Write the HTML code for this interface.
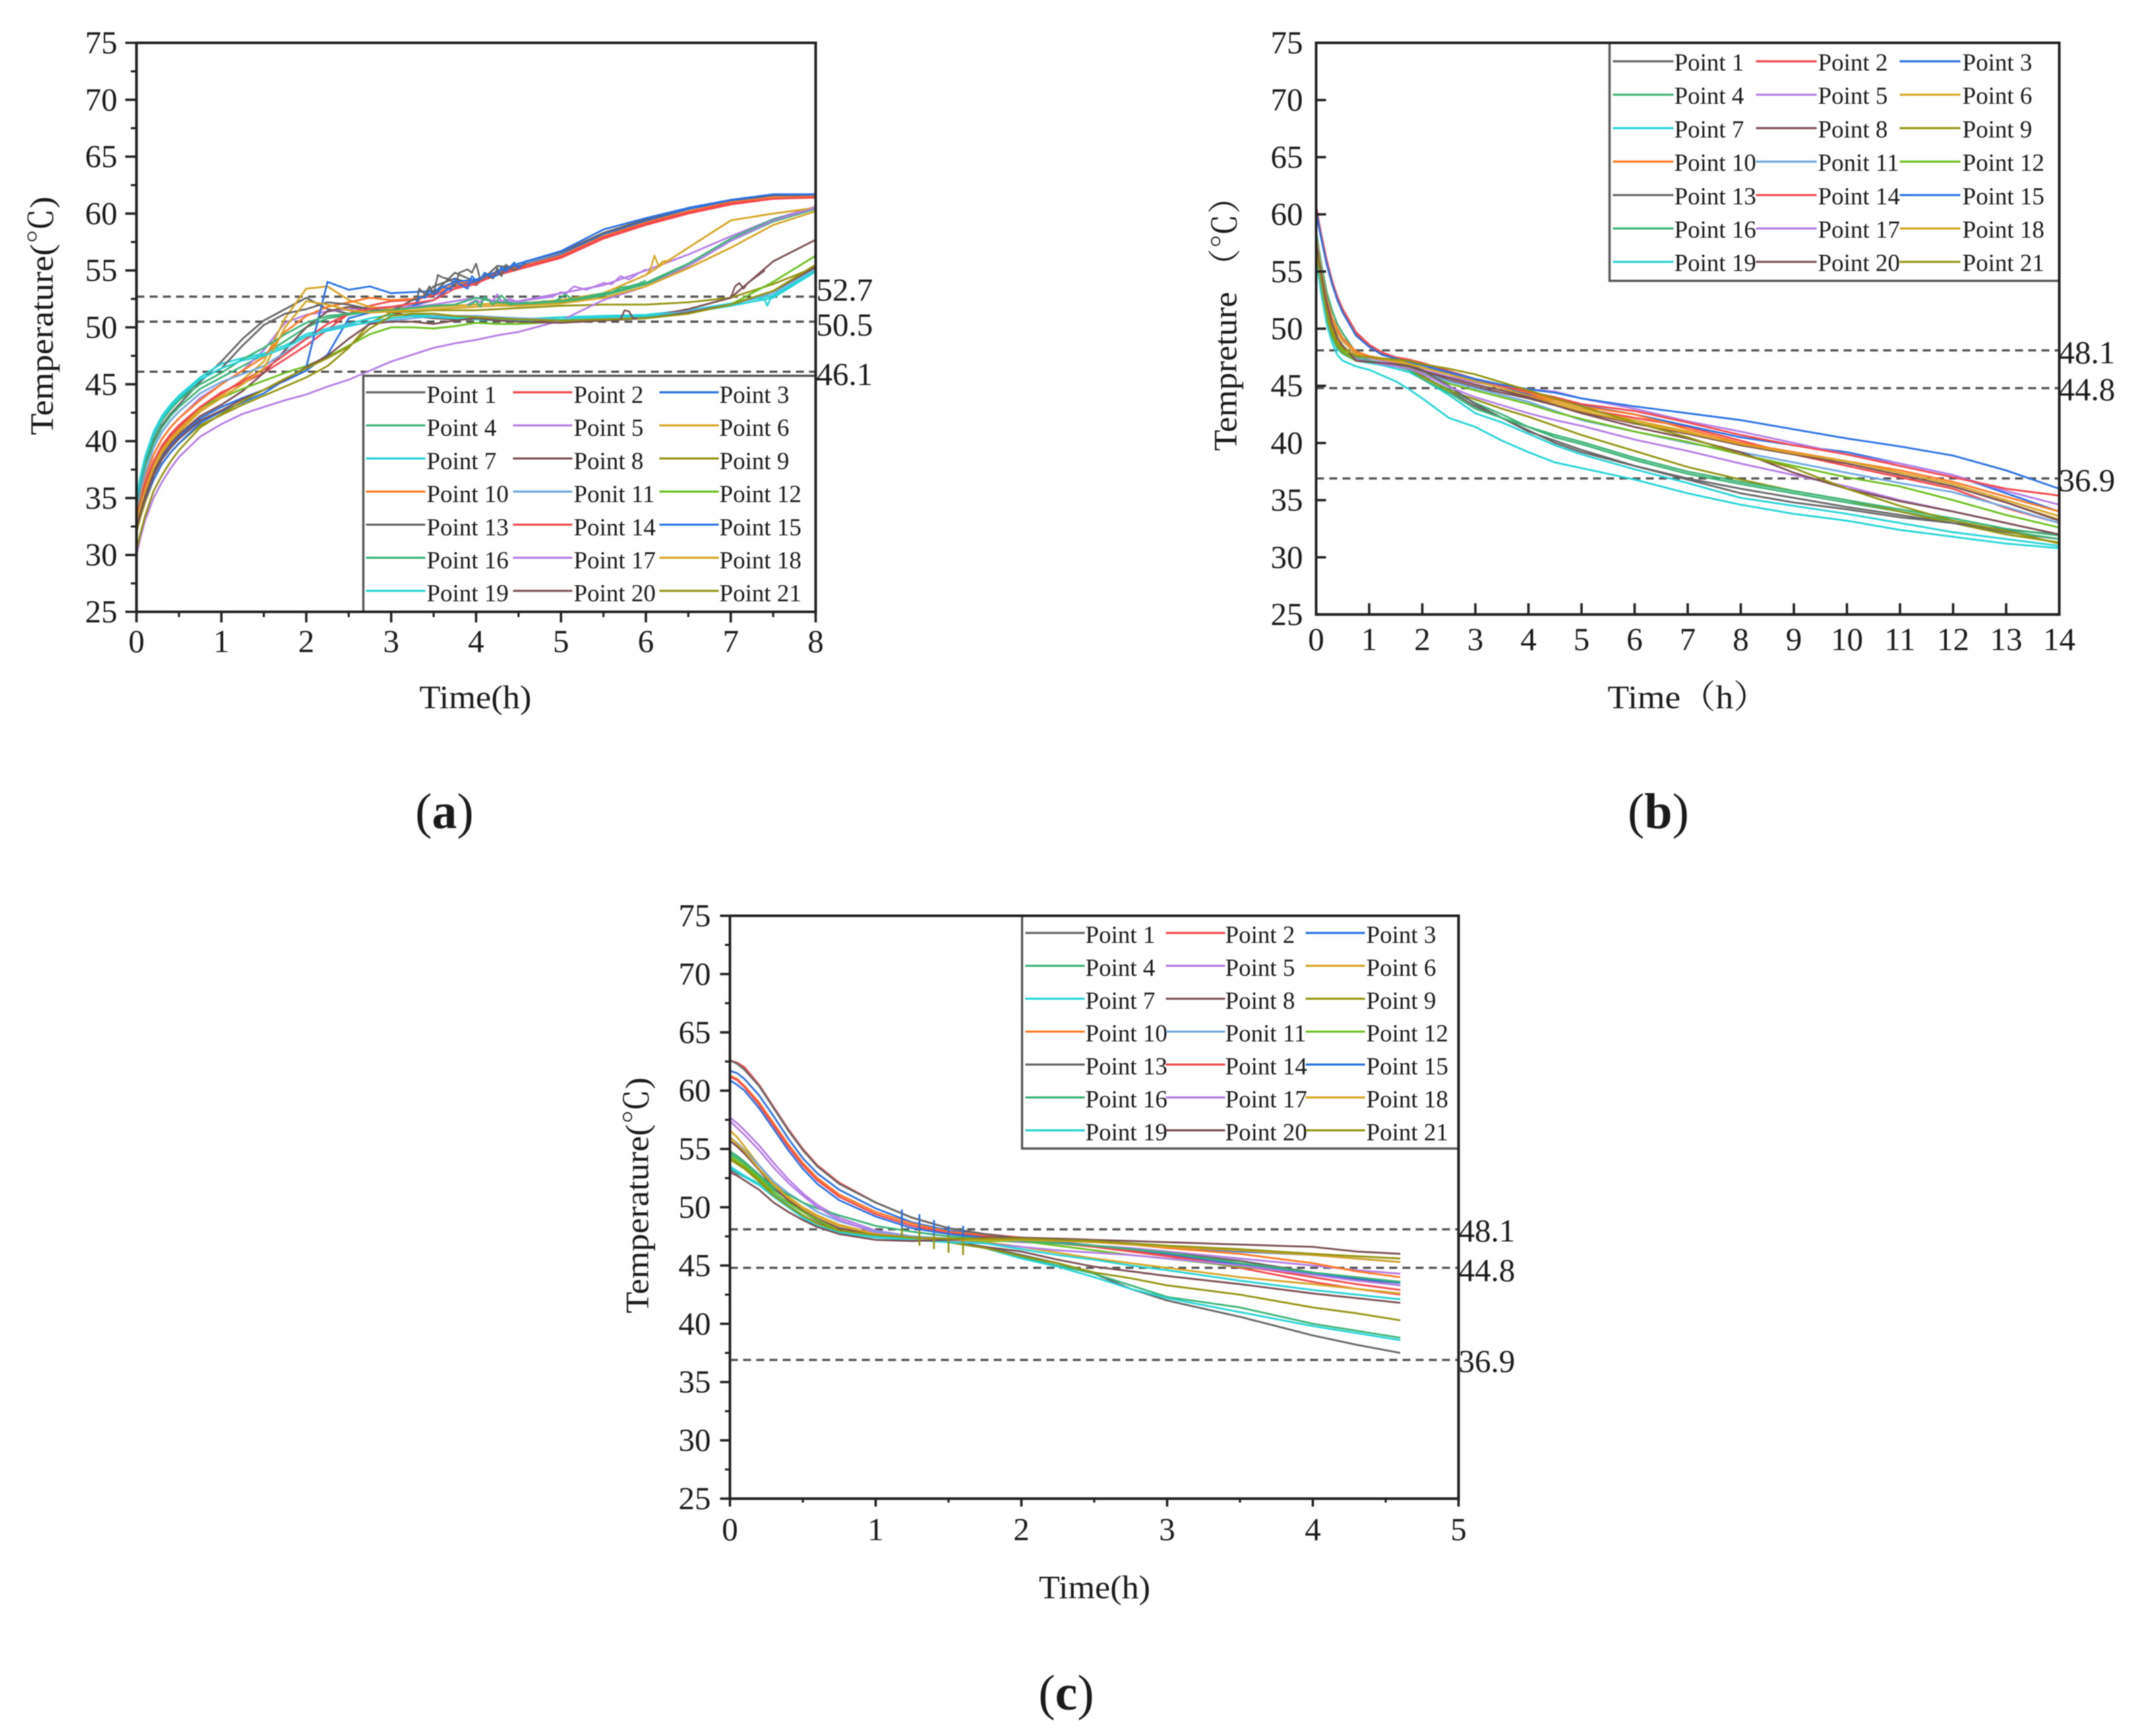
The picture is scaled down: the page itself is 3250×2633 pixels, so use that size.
<!DOCTYPE html>
<html lang="en">
<head>
<meta charset="utf-8">
<title>Temperature over time, panels a, b and c</title>
<style>
html,body{margin:0;padding:0;background:#fff;width:3250px;height:2633px;overflow:hidden}
svg{display:block;filter:blur(0.7px)}
text{font-family:"Liberation Serif","Noto Serif CJK SC",serif;fill:#1a1a1a}
</style>
</head>
<body>
<svg id="figure" xmlns="http://www.w3.org/2000/svg" width="3250" height="2633" viewBox="0 0 3250 2633">
  <rect x="0" y="0" width="3250" height="2633" fill="#fff"/>
  <g id="panel-a"></g>
  <g id="panel-b"></g>
  <g id="panel-c"></g>

  <text transform="rotate(-90 80 479)" x="80" y="479" text-anchor="middle" font-size="50" textLength="362" lengthAdjust="spacingAndGlyphs">Temperature(℃)</text>
  <text x="721" y="1074" text-anchor="middle" font-size="50" textLength="170" lengthAdjust="spacingAndGlyphs">Time(h)</text>
  <text x="1238" y="456" font-size="49">52.7</text>
  <text x="1238" y="509" font-size="49">50.5</text>
  <text x="1238" y="584" font-size="49">46.1</text>
  <text x="674" y="1256" text-anchor="middle" font-size="76">(<tspan font-weight="bold">a</tspan>)</text>

  <text transform="rotate(-90 1875 684)" x="1875" y="684" text-anchor="start" font-size="50" textLength="412" lengthAdjust="spacingAndGlyphs">Tempreture （℃）</text>
  <text x="2438" y="1074" text-anchor="start" font-size="50" textLength="244" lengthAdjust="spacingAndGlyphs">Time（h）</text>
  <text x="3122" y="551" font-size="49">48.1</text>
  <text x="3122" y="607" font-size="49">44.8</text>
  <text x="3122" y="745" font-size="49">36.9</text>
  <text x="2515" y="1256" text-anchor="middle" font-size="76">(<tspan font-weight="bold">b</tspan>)</text>

  <text transform="rotate(-90 983 1813)" x="983" y="1813" text-anchor="middle" font-size="50" textLength="358" lengthAdjust="spacingAndGlyphs">Temperature(℃)</text>
  <text x="1660" y="2424" text-anchor="middle" font-size="50" textLength="169" lengthAdjust="spacingAndGlyphs">Time(h)</text>
  <text x="2212" y="1883" font-size="49">48.1</text>
  <text x="2212" y="1943" font-size="49">44.8</text>
  <text x="2212" y="2081" font-size="49">36.9</text>
  <text x="1617" y="2593" text-anchor="middle" font-size="76">(<tspan font-weight="bold">c</tspan>)</text>
</svg>

<script>
// ---------- shared categories ----------
const seriesNames = ["Point 1","Point 2","Point 3","Point 4","Point 5","Point 6","Point 7","Point 8","Point 9","Point 10","Ponit 11","Point 12","Point 13","Point 14","Point 15","Point 16","Point 17","Point 18","Point 19","Point 20","Point 21"];
const seriesColors = ["#666666","#f4484c","#2b72e4","#3cb476","#b47ce6","#d8a524","#24d4d8","#7c5054","#949412","#ff7a24","#70a8e0","#6cc020","#666666","#f4484c","#2b72e4","#3cb476","#b47ce6","#d8a524","#24d4d8","#7c5054","#949412"];
const yTickLabels = [25,30,35,40,45,50,55,60,65,70,75];

// ---------- panel a ----------
const timesA = [0,.05,.1,.2,.3,.4,.5,.75,1,1.25,1.5,1.75,2,2.25,2.5,2.75,3,3.25,3.5,3.75,4,4.25,4.5,5,5.5,6,6.5,7,7.5,8];
const xTicksA = [0,1,2,3,4,5,6,7,8];
const thresholdsA = [52.7,50.5,46.1];
const a1 = [34,36.2,37.8,40,41.4,42.4,43.2,45.2,47,49,50.6,51.6,52.6,51.6,51.2,51.4,51.6,51.9,53.6,54.3,53.7,55.4,55.2,56.3,58.2,59.3,60.4,61.1,61.6,61.7];
const a2 = [33,34.6,36,38,39.4,40.4,41.2,43,44.3,45.1,46,47.2,48.4,49.8,51.2,51.9,52.3,52.4,52.8,53.6,53.9,54.6,55.1,56.1,57.8,59,60,60.8,61.3,61.5];
const a3 = [32.8,34.2,35.4,37.2,38.6,39.6,40.4,42,43,43.8,44.5,45.3,46.2,47.6,50.8,51.3,51.6,51.9,52.4,53.8,54,54.8,55.4,56.4,58.2,59.4,60.4,61.1,61.6,61.6];
const a4 = [34.2,36.3,37.8,39.8,41.2,42.2,43,44.6,45.6,46.6,47.6,48.8,50,50.8,51.1,51.4,51.6,51.8,51.8,51.9,52,52.1,52,52.2,52.8,53.8,55.4,57.6,59.3,60.4];
const a5 = [33.4,35.2,36.6,38.8,40.2,41.2,42,43.8,45,46.2,48,50.4,51.1,51.4,51.6,51.7,51.8,51.8,52,52.3,52.6,52.3,52.3,53,53.7,55,56.4,58,59.5,60.6];
const a6 = [33,34.6,35.8,37.8,39.2,40.2,41,42.8,44,45.4,47,50.8,53.4,53.6,52.4,51.8,51.6,51.7,51.8,51.9,52,52.1,52.1,52.4,53,54.6,57,59.4,60,60.5];
const a7 = [35,37,38.6,40.8,42.2,43.2,44,45.6,46.8,47.3,47.7,48.4,49.4,49.9,50.3,50.8,51.1,51.1,51,50.9,50.8,50.7,50.7,50.9,51,51.1,51.5,52.1,52.8,55];
const a8 = [32.6,34.2,35.4,37.4,38.8,39.8,40.6,42.2,43.2,44.4,46,48,50,51.4,51.8,51.6,51.3,51,50.8,50.7,50.7,50.6,50.6,50.5,50.7,50.9,51.6,52.6,55.8,57.7];
const a9 = [32,33.4,34.6,36.6,38,39,39.8,41.4,42.3,43.2,44,44.8,45.6,46.6,48.2,50.4,51.3,51.4,51.5,51.5,51.5,51.6,51.7,51.9,52,52,52.2,52.6,53.8,55.3];
const a10 = [33.6,35.4,36.8,38.8,40.2,41.2,42,43.6,45,46.2,47.4,49.6,51,51.8,52.2,52.6,52.4,52.5,53,53.8,54.2,54.8,55.3,56.3,58,59.2,60.2,61,61.4,61.5];
const a11 = [34,35.8,37.2,39.4,40.8,41.8,42.6,44.2,45.2,45.9,46.6,47.8,49,49.8,50.2,50.4,50.6,50.8,51,51,51,50.9,50.8,50.7,50.8,51,51.4,52,53,55.2];
const a12 = [33.2,35,36.2,38.2,39.6,40.6,41.4,43,43.8,44.6,45.3,46,46.6,47.4,48.4,49.4,50,50,49.9,50.1,50.4,50.3,50.3,50.5,50.7,50.8,51.3,52,54,56.3];
const a13 = [34.4,36.6,38.2,40.4,41.8,42.8,43.6,45.4,46.4,48.4,50.2,51.2,51.6,52.2,52,51.6,51.4,52.4,53,54.8,54,54.6,55.6,56.6,58.3,59.5,60.5,61.2,61.6,61.7];
const a14 = [33.2,34.8,36.2,38.2,39.6,40.6,41.4,43,44.2,45.3,46.3,47.6,49,50.3,51.2,51.6,51.8,52.1,52.4,53.4,53.8,54.8,55.2,56.2,57.9,59.1,60.1,60.9,61.3,61.4];
const a15 = [32.6,33.8,34.9,36.6,38,39,39.8,41.6,42.6,43.4,44.2,45.4,46.5,54,53.3,53.6,53,53.1,53.2,54,54.2,54.9,55.6,56.7,58.6,59.6,60.5,61.2,61.7,61.7];
const a16 = [34.6,36.8,38.4,40.4,41.8,42.8,43.6,45,46,47.2,48.2,49.4,50.4,51,51.2,51.4,51.5,51.7,51.9,52,52.6,52.2,52.1,52.3,52.9,53.9,55.6,57.8,59.5,60.4];
const a17 = [30,31.6,33,35,36.4,37.6,38.6,40.4,41.5,42.4,43,43.6,44.1,44.8,45.4,46.2,47,47.6,48.2,48.6,48.9,49.3,49.6,50.6,52.4,53.6,55.4,57.6,59.4,60.5];
const a18 = [32.8,34.4,35.6,37.6,39,40,40.8,42.6,43.8,45,46.4,50,52.3,52,51.5,51.3,51.4,51.5,51.6,51.7,51.8,51.9,51.9,52.1,52.6,53.6,55.2,57,59,60.2];
const a19 = [34.8,36.8,38.4,40.6,42,43,43.8,45.4,46.4,47.1,47.5,48.2,49.2,49.7,50.1,50.5,50.8,51,50.9,50.8,50.7,50.6,50.6,50.7,50.9,51,51.3,51.9,52.6,54.9];
const a20 = [32.4,33.8,35,37,38.4,39.4,40.2,41.8,42.7,43.7,44.5,45.4,46.5,47.5,49,50.3,50.5,50.5,50.3,50.6,50.8,50.6,50.5,50.4,50.6,50.8,51.3,52,53.2,55.3];
const a21 = [30.4,32,33.4,35.6,37,38.2,39.2,41.2,42.4,43.5,44.5,45.5,46.4,47.3,48.3,49.9,51,51.2,51.2,51,50.9,50.8,50.7,50.6,50.7,50.8,51.2,52,53.2,55.5];
// jittery stretches of individual sensors in panel a
const jitterTimesTop = [3.3,3.33,3.4,3.45,3.5,3.55,3.6,3.7,3.75,3.8,3.9,3.95,4,4.05,4.1,4.2,4.25,4.3,4.35,4.45,4.5,4.6];
const jitterGrayTop = [52.3,53.4,52.9,53.6,53,54.6,54.4,54.2,53.6,54.8,55.1,54.8,55.6,54.2,54.7,54.3,55.2,54.5,55.5,55,55.4,55.6];
const jitterBlueTop = [52.2,52.7,52.6,53.2,52.9,53.1,53.6,53.3,54.3,53.8,53.4,54.5,54.1,54.2,54.8,54.4,54.6,55.3,54.9,55.7,55.2,55.9];
const jitterTimesMid = [3.9,4,4.05,4.1,4.2,4.25,4.3,4.4,4.5,4.6,4.7,4.8,4.9,5,5.05,5.15,5.3,5.5,5.6,5.7,5.8,5.9,6];
const jitterPurpleMid = [52,52.4,52.2,52.6,52.3,52.9,52.3,52.5,52.2,52.4,52.5,52.6,52.7,53.1,52.9,53.6,53.3,53.9,53.8,54.5,54.2,54.7,55.1];
const jitterGreenMid = [51.9,52.3,51.8,52.7,52,52.4,52.8,52,52.1,52.2,52.1,52.3,52.2,52.6,52.9,52.4,52.7,53,53.1,53.5,53.6,53.8,54.1];
const bumpTimesGold = [6,6.05,6.1,6.15,6.2,6.3];
const bumpGold = [54.6,55,56.3,55.4,55.8,55.9];
const bumpTimesBrownA = [5.7,5.75,5.8,5.85,5.9];
const bumpBrownA = [50.7,51.5,51.4,50.8,50.8];
const bumpTimesBrownB = [6.9,7,7.05,7.1,7.15,7.2,7.4];
const bumpBrownB = [52.4,52.6,53.6,53.9,53.4,53.9,55];
const bumpTimesCyan = [7.3,7.4,7.43,7.48,7.55];
const bumpCyan = [52.6,52.4,51.9,52.7,53];

// ---------- panel b ----------
const timesB = [0,.05,.1,.2,.3,.4,.5,.75,1,1.25,1.5,1.75,2,2.5,3,3.5,4,4.5,5,6,7,8,9,10,11,12,13,14];
const xTicksB = [0,1,2,3,4,5,6,7,8,9,10,11,12,13,14];
const thresholdsB = [48.1,44.8,36.9];
const b1 = [57,55.5,54.2,52,50.3,49.2,48.5,47.5,47.1,46.9,46.7,46.4,45.9,44.6,43.2,42.2,41,40.2,39.4,38,36.9,36,35.2,34.4,33.7,33,32.2,31.6];
const b2 = [60.8,59.4,58.2,56,54.2,52.8,51.7,49.7,48.6,47.9,47.5,47.2,46.9,46.1,45.4,44.8,44.2,43.6,43,42.2,41.4,40.2,39,38,37,36,34.3,33];
const b3 = [60.2,59,57.8,55.8,54,52.6,51.5,49.5,48.4,47.8,47.4,47.1,46.8,46.1,45.5,44.9,44.3,43.8,43.3,42.5,41.5,40.5,39.8,39.2,38.2,37.2,35.6,34];
const b4 = [58.5,57,55.6,53.2,51.6,50.4,49.6,47.9,47.2,46.9,46.7,46.4,45.8,44.7,43.5,42.5,41.4,40.5,39.9,38.5,37.3,36.4,35.6,34.8,34,33.2,32.3,31.6];
const b5 = [58,56.5,55,52.6,50.9,49.8,49,47.7,47.4,47.2,47,46.7,46.4,45.8,45.3,44.9,44.7,44.5,43.9,43,41.9,41,40,39,38.2,37.2,35.8,34.6];
const b6 = [58,56.4,55,52.6,50.8,49.6,48.9,47.8,47.5,47.3,47.2,47,46.8,46.2,45.6,45,44.4,43.6,43,42,41,39.8,39,38.2,37.2,36.2,34.8,33.3];
const b7 = [56.5,55,53.5,50.8,49.2,48.2,47.8,47.2,47,46.8,46.5,46.2,45.6,44.2,42.6,41.8,40.8,39.8,39,37.7,36.5,35.2,34.5,33.8,33,32.2,31.6,31];
const b8 = [57,55.5,54,51.4,49.6,48.5,48,47.2,47.1,47,46.9,46.7,46.3,45.5,44.9,44.4,43.9,43.3,42.7,41.7,40.8,39.8,39,38.2,37.2,36.2,34.8,33.2];
const b9 = [56.5,55,53.6,51,49.4,48.4,47.9,47.2,47.1,47,46.8,46.4,45.8,44.6,43.8,43,42.3,41.5,40.7,39.3,37.9,36.8,35.8,35,34,33,32,31.3];
const b10 = [58,56.2,54.8,52.6,51,50,49.2,48,47.6,47.4,47.3,47.2,47,46.3,45.6,45,44.4,43.8,43.2,42.5,41.2,40,39.2,38.4,37.6,36.6,35.3,34];
const b11 = [57.5,56,54.6,52.2,50.4,49.2,48.5,47.5,47.2,47,46.8,46.6,46.2,45.4,44.8,44.2,43.6,42.8,42,41,40,39.2,38.3,37.4,36.5,35.7,34.4,33];
const b12 = [57,55.4,54,51.4,49.7,48.7,48.1,47.2,47.1,47,46.8,46.6,46.1,45.2,44.6,44,43.4,42.7,42.1,41,40.1,39,38,37,36.2,35,33.7,32.6];
const b13 = [57,55.5,54.2,52,50.3,49.2,48.5,47.4,47.2,47,46.9,46.8,46.4,45,43.4,42.2,41.1,40,39.2,38,36.8,35.6,34.8,34.2,33.5,33,32.4,32];
const b14 = [60.6,59.2,58,55.8,54,52.7,51.6,49.6,48.5,47.9,47.5,47.3,47,46.3,45.6,45,44.5,44,43.4,42.8,41.8,40.7,39.8,39,38,37,36,35.4];
const b15 = [60.4,59,57.8,55.6,53.9,52.5,51.4,49.4,48.4,47.7,47.4,47.1,46.8,46.2,45.6,45.1,44.7,44.4,43.9,43.2,42.6,42,41.2,40.4,39.7,38.9,37.6,36];
const b16 = [57.5,56,54.6,52.2,50.4,49.2,48.5,47.4,47.2,47,46.8,46.4,45.6,44.4,43,42.2,41.4,40.7,40.1,38.7,37.5,36.6,35.8,35,34.2,33.4,32.5,31.9];
const b17 = [57.5,56,54.6,52.2,50.4,49.2,48.5,47.3,47.1,46.9,46.7,46.5,46.1,44.9,44,43.3,42.6,42,41.5,40.3,39.3,38.2,37.2,36.2,35,34,33,32];
const b18 = [57,55.5,54.2,51.8,50,49,48.4,47.6,47.5,47.3,47.1,46.9,46.6,46,45.4,44.8,44.1,43.4,42.8,41.8,40.9,39.9,39.1,38.4,37.4,36.4,35,33.6];
const b19 = [56,54.6,53,50.4,48.8,47.7,47.2,46.7,46.4,45.9,45.4,44.7,43.9,42.2,41.4,40.2,39.2,38.3,37.8,36.8,35.6,34.6,33.8,33.2,32.4,31.8,31.2,30.8];
const b20 = [57.5,56,54.6,52.2,50.4,49.2,48.5,47.2,47.1,47,46.9,46.7,46.3,45.7,45.1,44.6,44,43.3,42.6,41.4,40.4,39.2,37.4,36,34.9,34,33,32];
const b21 = [57,55.4,54,51.4,49.8,48.8,48.3,47.6,47.5,47.4,47.3,47.2,46.9,46.5,46,45.3,44.6,43.9,43.2,41.8,40.5,39,37.8,36,34.5,33.2,32.3,31.2];

// ---------- panel c ----------
const timesC = [0,.05,.1,.2,.3,.4,.5,.6,.75,1,1.25,1.5,1.75,2,2.25,2.5,2.75,3,3.5,4,4.3,4.6];
const xTicksC = [0,1,2,3,4,5];
const thresholdsC = [48.1,44.8,36.9];
const c1 = [53.2,52.9,52.6,51.9,51,50.4,49.6,48.8,48,47.5,47.2,47,46.6,45.9,45.2,44.3,43,42,40.6,39,38.2,37.5];
const c2 = [62.6,62.4,62,60.5,58.6,56.7,55,53.6,52.1,50.4,49.1,48.2,47.7,47.4,47,46.6,46.2,45.8,44.8,43.6,43,42.5];
const c3 = [61.7,61.5,61,59.6,57.8,55.9,54.2,52.9,51.5,49.9,48.7,48,47.6,47.3,47.1,47,46.8,46.6,46.2,45.9,45.6,45.3];
const c4 = [54.6,54.2,53.8,52.7,51.5,50.7,49.9,49.2,48.4,47.7,47.3,47,46.5,45.7,45,44.3,43.3,42.3,41.4,40,39.4,38.8];
const c5 = [57.7,57.2,56.6,55.3,53.8,52.4,51.2,50.2,49.1,48,47.5,47.3,47.2,47,46.9,46.7,46.5,46.2,45.6,45,44.6,44.3];
const c6 = [56.6,56,55.2,53.6,52.1,50.9,50,49.3,48.5,47.7,47.4,47.2,47,46.6,46.1,45.6,45.2,44.8,44,43.4,43,42.6];
const c7 = [53.4,53,52.6,51.9,50.9,50,49.1,48.4,47.8,47.4,47.2,47,46.5,45.6,44.9,44,43,42.2,41,39.8,39.2,38.6];
const c8 = [55.7,55.2,54.6,53.2,51.7,50.6,49.7,49,48.2,47.6,47.3,47.1,46.6,46.2,45.5,44.9,44.5,44.1,43.4,42.6,42.2,41.8];
const c9 = [54.2,53.8,53.4,52.3,51.1,50.2,49.3,48.6,47.9,47.5,47.3,47,46.5,45.8,45.2,44.4,43.9,43.3,42.5,41.4,40.9,40.3];
const c10 = [61.3,61,60.4,59,57.2,55.4,53.8,52.5,51.1,49.6,48.6,47.9,47.6,47.4,47.2,47,46.8,46.5,46,45.2,44.5,44];
const c11 = [56,55.5,54.9,53.6,52.2,51.2,50.4,49.6,48.8,47.9,47.5,47.3,47.2,47.2,47.1,47,46.8,46.6,46.3,45.9,45.6,45.3];
const c12 = [54.4,54,53.6,52.5,51.3,50.4,49.6,48.9,48,47.6,47.3,47.2,47.1,47.1,46.7,46.3,45.9,45.6,44.9,44.2,43.9,43.6];
const c13 = [62.6,62.3,61.8,60.4,58.5,56.6,54.9,53.5,52,50.4,49.1,48.2,47.7,47.3,47,46.7,46.4,46.1,45.4,44.4,43.8,43.3];
const c14 = [61.2,60.9,60.3,58.8,57,55.2,53.6,52.3,50.9,49.4,48.4,47.8,47.5,47.2,46.9,46.6,46.3,45.9,45,44,43.4,42.9];
const c15 = [60.9,60.5,60,58.5,56.7,54.9,53.3,52,50.6,49.2,48.2,47.7,47.4,47.2,47,46.7,46.4,46,45.1,44.3,43.9,43.5];
const c16 = [54.8,54.4,53.9,52.8,51.7,51.1,50.4,49.9,49.3,48.4,47.9,47.5,47.3,47.1,46.9,46.7,46.4,46.1,45.2,44.4,44,43.6];
const c17 = [57.4,56.8,56.2,54.9,53.4,52.1,51,50,48.9,47.8,47.4,47.1,46.9,46.6,46.3,46.1,45.9,45.6,45,44.2,43.7,43.3];
const c18 = [56,55.4,54.8,53.3,51.9,50.8,49.9,49.2,48.4,47.7,47.4,47.2,47.2,47.2,47.1,47,46.8,46.6,46.3,45.9,45.6,45.3];
const c19 = [53.5,53.1,52.7,52,51.1,50.2,49.3,48.6,47.9,47.5,47.2,47,46.9,46.4,45.9,45.5,45,44.6,43.7,42.9,42.5,42.1];
const c20 = [53,52.7,52.3,51.5,50.4,49.6,48.9,48.3,47.7,47.2,47.1,47.2,47.4,47.4,47.3,47.2,47.1,47,46.8,46.6,46.2,46];
const c21 = [54.1,53.7,53.3,52.2,51,50.1,49.3,48.6,48,47.6,47.4,47.3,47.3,47.3,47.2,47.1,46.9,46.7,46.4,46,45.8,45.6];
// short sensor glitches visible in panel c
const glitchTimesC = [1.18,1.3,1.4,1.5,1.6];
const glitchTopC = [49.8,49.4,48.9,48.4,48.4];
const glitchMidC = [48.2,48,47.6,47.6,47.4];
const glitchBottomC = [47.5,46.7,46.4,46.1,45.9];

// ---------- drawing ----------
const NS = "http://www.w3.org/2000/svg";
function svgEl(tag, attrs, parent) {
  const el = document.createElementNS(NS, tag);
  for (const k in attrs) el.setAttribute(k, attrs[k]);
  parent.appendChild(el);
  return el;
}
function linearScale(d0, d1, r0, r1) {
  return function (v) { return r0 + (v - d0) * (r1 - r0) / (d1 - d0); };
}

function drawPanel(cfg) {
  const root = document.getElementById(cfg.id);
  const xScale = linearScale(cfg.xMin, cfg.xMax, cfg.left, cfg.right);
  const yScale = linearScale(25, 75, cfg.bottom, cfg.top);

  // threshold dashed lines
  cfg.thresholds.forEach(function (v) {
    const dash = svgEl("line", {x1: cfg.left, x2: cfg.right, y1: yScale(v), y2: yScale(v), stroke: "#555", "stroke-width": 3.4, "stroke-dasharray": "12 8"}, root);
    
    
  });

  // series
  cfg.series.forEach(function (values, s) {
    const pts = values.map(function (v, i) { return xScale(cfg.times[i]).toFixed(1) + "," + yScale(v).toFixed(1); }).join(" ");
    const line = svgEl("polyline", {points: pts, fill: "none", stroke: seriesColors[s], "stroke-width": 2.8, "stroke-linejoin": "round"}, root);
    
    
  });

  // jitter traces
  (cfg.details || []).forEach(function (d) {
    const pts = d.values.map(function (v, i) { return xScale(d.times[i]).toFixed(1) + "," + yScale(v).toFixed(1); }).join(" ");
    const line = svgEl("polyline", {points: pts, fill: "none", stroke: seriesColors[d.s], "stroke-width": 2.6, "stroke-linejoin": "round"}, root);
    
    
  });

  // glitches
  if (cfg.glitchTimes) {
    cfg.glitchTimes.forEach(function (t, i) {
      const low = svgEl("line", {x1: xScale(t), x2: xScale(t), y1: yScale(cfg.glitchTop[i]), y2: yScale(cfg.glitchBottom[i]), stroke: "#949412", "stroke-width": 2.8}, root);
      
      
      const high = svgEl("line", {x1: xScale(t), x2: xScale(t), y1: yScale(cfg.glitchTop[i]), y2: yScale(cfg.glitchMid[i]), stroke: "#2b72e4", "stroke-width": 2.8}, root);
      
      
    });
  }

  // legend box
  const lg = cfg.legend;
  const box = svgEl("rect", {x: lg.left, y: lg.top, width: lg.right - lg.left, height: lg.bottom - lg.top, fill: "#fff", stroke: "#555", "stroke-width": 3.4}, root);
  
  
  seriesNames.forEach(function (name, s) {
    const col = s % 3, row = Math.floor(s / 3);
    const y = lg.firstLineY + row * lg.rowGap;
    const entry = svgEl("g", {}, root);
    
    
    const sw = svgEl("line", {x1: lg.lineX[col], x2: lg.lineX[col] + lg.lineLen, y1: y, y2: y, stroke: seriesColors[s], "stroke-width": 3.2}, entry);
    
    
    const label = svgEl("text", {x: lg.textX[col], y: y + lg.baselineDy, "font-size": 37}, entry);
    label.textContent = name;
    
    
  });

  // frame
  const frame = svgEl("rect", {x: cfg.left, y: cfg.top, width: cfg.right - cfg.left, height: cfg.bottom - cfg.top, fill: "none", stroke: "#222", "stroke-width": 4}, root);
  
  

  // y ticks and labels
  yTickLabels.forEach(function (v, i) {
    const y = yScale(v);
    const tick = svgEl("line", {x1: cfg.left, x2: cfg.left + cfg.yTickDir * cfg.yTickLen, y1: y, y2: y, stroke: "#222", "stroke-width": 3.6}, root);
    
    
    if (cfg.minor && i < yTickLabels.length - 1) {
      const my = yScale(v + 2.5);
      const m = svgEl("line", {x1: cfg.left, x2: cfg.left + cfg.yTickDir * cfg.yTickLen / 2, y1: my, y2: my, stroke: "#222", "stroke-width": 3.2}, root);
      
      
    }
    const lab = svgEl("text", {x: cfg.yLabelX, y: y + 16, "text-anchor": "end", "font-size": 49}, root);
    lab.textContent = v;
    
    
  });

  // x ticks and labels
  cfg.xTicks.forEach(function (v, i) {
    const x = xScale(v);
    const tick = svgEl("line", {x1: x, x2: x, y1: cfg.bottom, y2: cfg.bottom + cfg.xTickDir * cfg.xTickLen, stroke: "#222", "stroke-width": 3.6}, root);
    
    
    if (cfg.minor && i < cfg.xTicks.length - 1) {
      const mx = xScale(v + 0.5);
      const m = svgEl("line", {x1: mx, x2: mx, y1: cfg.bottom, y2: cfg.bottom + cfg.xTickDir * cfg.xTickLen / 2, stroke: "#222", "stroke-width": 3.2}, root);
      
      
    }
    const lab = svgEl("text", {x: x, y: cfg.xLabelY, "text-anchor": "middle", "font-size": 49}, root);
    lab.textContent = v;
    
    
  });
}

drawPanel({
  id: "panel-a", left: 207, right: 1237, top: 65, bottom: 928, xMin: 0, xMax: 8,
  times: timesA, xTicks: xTicksA, thresholds: thresholdsA,
  series: [a1,a2,a3,a4,a5,a6,a7,a8,a9,a10,a11,a12,a13,a14,a15,a16,a17,a18,a19,a20,a21],
  details: [
    {s: 0, times: jitterTimesTop, values: jitterGrayTop},
    {s: 14, times: jitterTimesTop, values: jitterBlueTop},
    {s: 4, times: jitterTimesMid, values: jitterPurpleMid},
    {s: 15, times: jitterTimesMid, values: jitterGreenMid},
    {s: 5, times: bumpTimesGold, values: bumpGold},
    {s: 7, times: bumpTimesBrownA, values: bumpBrownA},
    {s: 7, times: bumpTimesBrownB, values: bumpBrownB},
    {s: 6, times: bumpTimesCyan, values: bumpCyan}
  ],
  yLabelX: 178, xLabelY: 989, yTickDir: -1, yTickLen: 17, xTickDir: 1, xTickLen: 16, minor: true,
  legend: {left: 551, top: 570, right: 1237, bottom: 928, firstLineY: 595, rowGap: 50.2, lineX: [555, 778, 1000], lineLen: 90, textX: [647, 870, 1091], baselineDy: 16}
});
drawPanel({
  id: "panel-b", left: 1996, right: 3123, top: 65, bottom: 932, xMin: 0, xMax: 14,
  times: timesB, xTicks: xTicksB, thresholds: thresholdsB,
  series: [b1,b2,b3,b4,b5,b6,b7,b8,b9,b10,b11,b12,b13,b14,b15,b16,b17,b18,b19,b20,b21],
  yLabelX: 1976, xLabelY: 986, yTickDir: 1, yTickLen: 15, xTickDir: -1, xTickLen: 17, minor: false,
  legend: {left: 2441, top: 65, right: 3123, bottom: 426, firstLineY: 93, rowGap: 50.7, lineX: [2446, 2663, 2881], lineLen: 92, textX: [2539, 2757, 2976], baselineDy: 14}
});
drawPanel({
  id: "panel-c", left: 1107, right: 2212, top: 1389, bottom: 2273, xMin: 0, xMax: 5,
  times: timesC, xTicks: xTicksC, thresholds: thresholdsC,
  series: [c1,c2,c3,c4,c5,c6,c7,c8,c9,c10,c11,c12,c13,c14,c15,c16,c17,c18,c19,c20,c21],
  glitchTimes: glitchTimesC, glitchTop: glitchTopC, glitchMid: glitchMidC, glitchBottom: glitchBottomC,
  yLabelX: 1078, xLabelY: 2336, yTickDir: -1, yTickLen: 15, xTickDir: 1, xTickLen: 12, minor: true,
  legend: {left: 1550, top: 1389, right: 2212, bottom: 1742, firstLineY: 1415, rowGap: 49.9, lineX: [1555, 1768, 1980], lineLen: 90, textX: [1646, 1858, 2072], baselineDy: 15}
});
</script>
</body>
</html>
